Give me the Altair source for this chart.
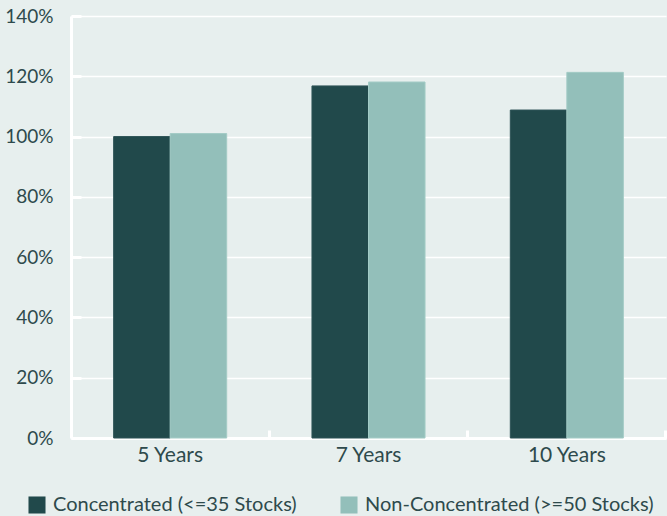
import altair as alt
import pandas as pd

periods = ["5 Years", "7 Years", "10 Years"]
series = ["Concentrated (<=35 Stocks)", "Non-Concentrated (>=50 Stocks)"]
concentrated = [1.00, 1.168, 1.088]
non_concentrated = [1.01, 1.181, 1.213]
y_ticks = [0, 0.2, 0.4, 0.6, 0.8, 1.0, 1.2, 1.4]

rows = []
for p, c, n in zip(periods, concentrated, non_concentrated):
    rows.append({"Period": p, "Series": series[0], "Value": c})
    rows.append({"Period": p, "Series": series[1], "Value": n})
df = pd.DataFrame(rows)

FONT = "Lato"
TXT = "#2e4a4c"
BG = "#e7efee"

xscale = alt.Scale(domain=periods, paddingInner=0.43, paddingOuter=0.215)
yscale = alt.Scale(domain=[0, 1.4])

bars = alt.Chart(df).mark_bar(strokeWidth=1).encode(
    x=alt.X("Period:N", scale=xscale, sort=periods, title=None,
            axis=alt.Axis(orient="bottom", labelAngle=0, labelFont=FONT, labelFontSize=21,
                          labelColor=TXT, labelPadding=6, ticks=False, grid=False,
                          domainColor="white", domainWidth=3)),
    xOffset=alt.XOffset("Series:N", sort=series),
    y=alt.Y("Value:Q", scale=yscale, title=None,
            axis=alt.Axis(orient="left", values=y_ticks, format=".0%", labelFont=FONT,
                          labelFontSize=19, labelColor=TXT, labelPadding=18, ticks=False,
                          grid=True, gridColor="white", gridWidth=1.5,
                          domainColor="white", domainWidth=3)),
    color=alt.Color("Series:N", sort=series,
                    scale=alt.Scale(domain=series, range=["#21494b", "#93bfba"]),
                    legend=alt.Legend(title=None, orient="none", direction="horizontal",
                                      legendX=-44, legendY=479, symbolType="square",
                                      symbolSize=290, symbolStrokeWidth=0, labelFont=FONT,
                                      labelFontSize=20, labelColor=TXT, columnPadding=42,
                                      labelOffset=6, labelLimit=400, symbolOpacity=1)),
    stroke=alt.Stroke("Series:N", sort=series,
                      scale=alt.Scale(domain=series, range=["#2d5356", "#a3cbc6"]),
                      legend=None),
)

tick_layer = alt.Chart(df).mark_bar(opacity=0).encode(
    x=alt.X("Period:N", scale=xscale, sort=periods, title=None,
            axis=alt.Axis(orient="bottom", offset=-8, labels=False, domain=False, grid=False,
                          ticks=True, tickSize=8, tickWidth=3, tickColor="white",
                          bandPosition=1.377, zindex=0)),
    y=alt.Y("Value:Q", scale=yscale, title=None,
            axis=alt.Axis(orient="left", offset=-10, values=y_ticks, labels=False,
                          domain=False, grid=False, ticks=True, tickSize=10, tickWidth=3,
                          tickColor="white", zindex=0)),
)

chart = alt.layer(bars, tick_layer).resolve_axis(x="independent", y="independent").properties(
    width=595, height=422,
    background=BG,
    padding={"left": 71, "top": 16, "right": 1, "bottom": 78},
    autosize=alt.AutoSizeParams(type="none"),
).configure_view(stroke=None, fill=BG)

chart.save("out.html", embed_options={"renderer": "svg", "actions": False})
